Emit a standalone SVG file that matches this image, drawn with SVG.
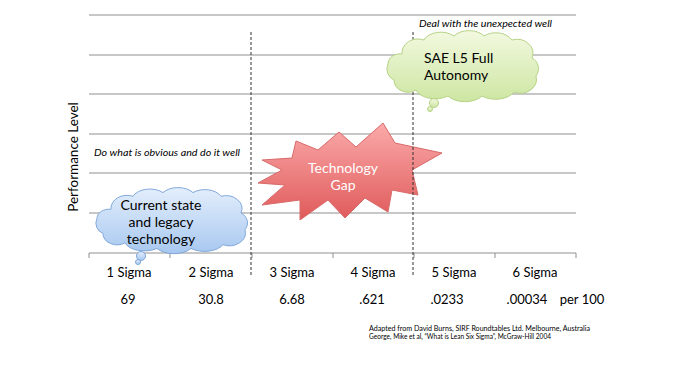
<svg xmlns="http://www.w3.org/2000/svg" xmlns:xlink="http://www.w3.org/1999/xlink" width="685" height="382" viewBox="0 0 685 382">
<style>
.grid{stroke:#8f8f8f;stroke-width:1;fill:none}
.dash{stroke:#333;stroke-width:1;stroke-dasharray:3,2;fill:none}
.lbl{font-family:Lato,"Liberation Sans",sans-serif;font-size:13px;fill:#000;text-anchor:middle}
.it{font-family:Lato,"Liberation Sans",sans-serif;font-size:10px;font-style:italic;fill:#000}
.cite{font-family:Lato,"Liberation Sans",sans-serif;font-size:7px;fill:#000}
.node{font-family:Lato,"Liberation Sans",sans-serif;font-size:14px}
</style>
<defs>
<linearGradient id="gBlue" x1="0" y1="0" x2="0" y2="1"><stop offset="0" stop-color="#e3eefc"/><stop offset="1" stop-color="#a8c8f0"/></linearGradient>
<linearGradient id="gGreen" x1="0" y1="0" x2="0" y2="1"><stop offset="0" stop-color="#f3f9e0"/><stop offset="1" stop-color="#cde6a2"/></linearGradient>
<linearGradient id="gRed" x1="0" y1="0" x2="0" y2="1"><stop offset="0" stop-color="#fbaaaa"/><stop offset="1" stop-color="#e05a5a"/></linearGradient>
<path id="cloud" d="M20,24 A16,14 0 0 1 42,10 A18,12 0 0 1 72,6 A18,12 0 0 1 102,6 A18,13 0 0 1 130,10 A16,14 0 0 1 150,28 A12,12 0 0 1 154,46 A16,14 0 0 1 132,62 A20,12 0 0 1 100,66 A20,12 0 0 1 66,66 A20,12 0 0 1 34,60 A14,12 0 0 1 12,50 A12,12 0 0 1 6,34 A12,10 0 0 1 20,24 Z"/>
</defs>
<rect width="685" height="382" fill="#fff"/>
<g id="grid">
<line class="grid" x1="89" y1="15" x2="576" y2="15"/>
<line class="grid" x1="89" y1="55" x2="576" y2="55"/>
<line class="grid" x1="89" y1="94" x2="576" y2="94"/>
<line class="grid" x1="89" y1="134" x2="576" y2="134"/>
<line class="grid" x1="89" y1="173" x2="576" y2="173"/>
<line class="grid" x1="89" y1="213" x2="576" y2="213"/>
<line class="grid" x1="89" y1="253" x2="576" y2="253"/>
<path class="grid" d="M89,253v5M170,253v5M252,253v5M333,253v5M414,253v5M495,253v5M576,253v5"/>
</g>
<g id="tech-gap">
<polygon points="383,123 395,143 442,153 412,170 418,195 392,190 388,212 365,198 345,218 328,200 300,220 300,200 262,205 285,185 258,183 282,170 262,160 292,158 296,141 318,150 339,132 356,147" fill="url(#gRed)" stroke="#d86a6a" stroke-width="1"/>
<text class="node" x="343" y="173" text-anchor="middle" fill="#fff">Technology</text>
<text class="node" x="343" y="190" text-anchor="middle" fill="#fff">Gap</text>
</g>
<g id="connectors">
<line class="dash" x1="251" y1="32" x2="251" y2="276"/>
<line class="dash" x1="413" y1="32" x2="413" y2="276"/>
</g>
<g id="current-state">
<use xlink:href="#cloud" transform="translate(91,187) scale(1,0.93)" fill="url(#gBlue)" stroke="#7ea6d8" stroke-width="1" vector-effect="non-scaling-stroke"/>
<circle cx="141" cy="256" r="4.5" fill="url(#gBlue)" stroke="#7ea6d8"/>
<circle cx="138" cy="262" r="2.5" fill="url(#gBlue)" stroke="#7ea6d8"/>
<text class="node" x="161" y="210" text-anchor="middle">Current state</text>
<text class="node" x="161" y="227" text-anchor="middle">and legacy</text>
<text class="node" x="161" y="244" text-anchor="middle">technology</text>
</g>
<g id="sae-l5">
<use xlink:href="#cloud" transform="translate(382,30)" fill="url(#gGreen)" stroke="#b6d386" stroke-width="1"/>
<circle cx="434" cy="103" r="4.5" fill="url(#gGreen)" stroke="#b6d386"/>
<circle cx="430" cy="109" r="2.5" fill="url(#gGreen)" stroke="#b6d386"/>
<text class="node" x="424" y="63">SAE L5 Full</text>
<text class="node" x="424" y="80">Autonomy</text>
</g>
<g id="labels">
<text x="78" y="157" transform="rotate(-90 78 157)" font-family="Lato,'Liberation Sans',sans-serif" font-size="13.5" text-anchor="middle">Performance Level</text>
<text class="it" x="94" y="156" textLength="146" lengthAdjust="spacingAndGlyphs">Do what is obvious and do it well</text>
<text class="it" x="419" y="27" textLength="133" lengthAdjust="spacingAndGlyphs">Deal with the unexpected well</text>
<text class="lbl" x="129" y="277">1 Sigma</text>
<text class="lbl" x="211" y="277">2 Sigma</text>
<text class="lbl" x="292" y="277">3 Sigma</text>
<text class="lbl" x="373" y="277">4 Sigma</text>
<text class="lbl" x="454" y="277">5 Sigma</text>
<text class="lbl" x="535" y="277">6 Sigma</text>
<text class="lbl" x="128" y="304">69</text>
<text class="lbl" x="211" y="304">30.8</text>
<text class="lbl" x="292" y="304">6.68</text>
<text class="lbl" x="372" y="304">.621</text>
<text class="lbl" x="447" y="304">.0233</text>
<text class="lbl" x="527" y="304">.00034</text>
<text class="lbl" x="582" y="304">per 100</text>
<text class="cite" x="369" y="331" textLength="221" lengthAdjust="spacingAndGlyphs">Adapted from David Burns, SIRF Roundtables Ltd. Melbourne, Australia</text>
<text class="cite" x="369" y="339" textLength="182" lengthAdjust="spacingAndGlyphs">George, Mike et al, “What is Lean Six Sigma”, McGraw-Hill 2004</text>
</g>
</svg>
